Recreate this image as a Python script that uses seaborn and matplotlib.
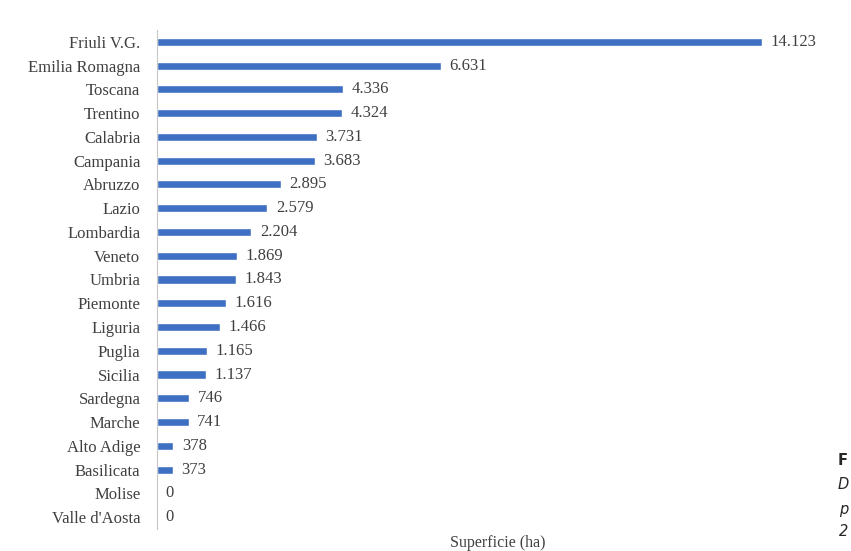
import matplotlib.pyplot as plt
import pandas as pd
import seaborn as sns


regions = ["Friuli V.G.", "Emilia Romagna", "Toscana", "Trentino", "Calabria",
           "Campania", "Abruzzo", "Lazio", "Lombardia", "Veneto", "Umbria",
           "Piemonte", "Liguria", "Puglia", "Sicilia", "Sardegna", "Marche",
           "Alto Adige", "Basilicata", "Molise", "Valle d'Aosta"]
area_ha = [14123, 6631, 4336, 4324, 3731, 3683, 2895, 2579, 2204, 1869, 1843,
           1616, 1466, 1165, 1137, 746, 741, 378, 373, 0, 0]
value_labels = ["14.123", "6.631", "4.336", "4.324", "3.731", "3.683", "2.895",
                "2.579", "2.204", "1.869", "1.843", "1.616", "1.466", "1.165",
                "1.137", "746", "741", "378", "373", "0", "0"]


def main():
    df = pd.DataFrame({"regione": regions, "superficie": area_ha})

    sns.set_style("white")
    plt.rcParams["font.family"] = ["Liberation Serif", "DejaVu Serif"]

    fig = plt.figure(figsize=(8.51, 5.51), dpi=100)
    ax = fig.add_axes([0.1845, 0.040, 0.785, 0.9056])

    sns.barplot(data=df, x="superficie", y="regione", orient="h",
                color="#3F6FC2", saturation=1, width=0.34, ax=ax)

    for i, (v, lab) in enumerate(zip(area_ha, value_labels)):
        ax.text(v + 200, i, lab, va="center", ha="left", fontsize=12,
                color="#404040")

    ax.set_xlim(0, 15600)
    ax.set_xticks([])
    ax.set_ylabel("")
    ax.set_xlabel("Superficie (ha)", fontsize=11.5, color="#404040")
    ax.xaxis.set_label_coords(0.51, -0.012)
    ax.tick_params(axis="y", length=0, labelsize=12, labelcolor="#404040", pad=12)
    for s in ["top", "right", "bottom"]:
        ax.spines[s].set_visible(False)
    ax.spines["left"].set_color("#c8c8c8")
    ax.spines["left"].set_linewidth(0.8)

    # caption fragments visible at the right edge
    fig.text(0.984, 0.165, "F", fontsize=10.5, fontweight="bold",
             family="DejaVu Sans", va="center")
    fig.text(0.984, 0.120, "D", fontsize=10.5, style="italic",
             family="DejaVu Sans", va="center")
    fig.text(0.986, 0.076, "p", fontsize=10.5, style="italic",
             family="DejaVu Sans", va="center")
    fig.text(0.986, 0.036, "2", fontsize=10.5, style="italic",
             family="DejaVu Sans", va="center")

    fig.savefig("out.png", dpi=100)


main()
